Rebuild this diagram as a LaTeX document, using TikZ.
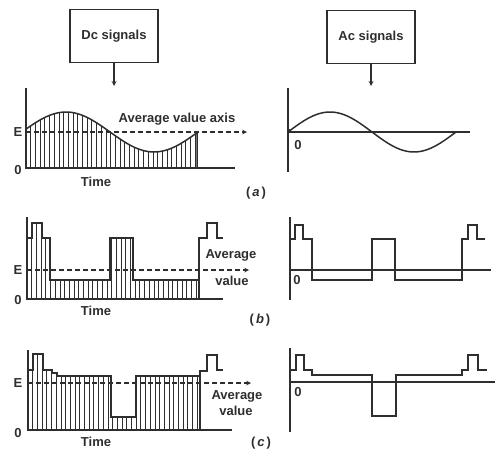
\documentclass[tikz,border=0pt]{standalone}
\usepackage{fontspec}
\setmainfont{Liberation Sans}
\usepackage{xcolor}
\definecolor{scanink}{HTML}{2E2E2E}

\begin{document}
\begin{tikzpicture}[x=1pt, y=-1pt, >=stealth,
    every node/.style={scanink, font=\fontsize{13}{15}\selectfont\bfseries},
    sigbox/.style={draw=scanink, line width=1.3pt, minimum width=88pt,
                   minimum height=53pt, inner sep=0pt},
    axisline/.style={scanink, line width=1.6pt},
    wave/.style={scanink, line width=1.5pt},
    hatch/.style={scanink, line width=0.8pt},
    avgline/.style={scanink, line width=1.1pt, dash pattern=on 5pt off 3pt, ->},
    feed/.style={scanink, line width=1.2pt, ->}]

  \useasboundingbox (0,0) rectangle (498,458);

  %% Kaestchen oben
  \node[sigbox] (dcbox) at (114,36) {Dc signals};
  \node[sigbox] (acbox) at (371,37) {Ac signals};
  \coordinate (dcfeed) at (114,86);
  \coordinate (acfeed) at (371,86);
  \draw[feed] (dcbox.south) -- (dcfeed);
  \draw[feed] (acbox.south) -- (acfeed);

  %% (a) Gleichsignal mit Sinusanteil
  \begin{scope}
    \clip (26,168) -- plot[domain=26:197, samples=60] (\x,{132-20*sin(2.04545*(\x-22))})
          -- (197,168) -- cycle;
    \foreach \x in {26,30.7,...,200}
      \draw[hatch] (\x,100) -- (\x,168);
  \end{scope}
  \draw[wave] plot[domain=26:197, samples=60] (\x,{132-20*sin(2.04545*(\x-22))})
              -- (197,168);
  \draw[axisline] (26,88) -- (26,168) -- (235,168);
  \coordinate (aavgL) at (26,132);
  \coordinate (aavgR) at (247,132);
  \draw[avgline] (aavgL) -- (aavgR);
  \node (aE) at (18,132) {E};
  \node (aO) at (18,170) {0};
  \node (aaxis) at (177,119) {Average value axis};
  \node (atime) at (96,182) {Time};
  \node (alabel) at (256,193) {(\kern2pt\textit{a}\kern2pt)};

  %% (a) Wechselsignal
  \draw[axisline] (288,88) -- (288,172);
  \draw[axisline] (288,132) -- (470,132);
  \draw[wave] plot[domain=288:456, samples=60] (\x,{132-20*sin(2.142857*(\x-288))});
  \fill[scanink] (289,131) circle (2pt);
  \node (acO) at (298,145) {0};

  %% (b) Gleichsignal, Pulsfolge
  \begin{scope}
    \clip (27,299) -- (27,238) -- (32,238) -- (32,223) -- (42,223) -- (42,238)
          -- (50,238) -- (50,280) -- (110,280) -- (110,238) -- (133,238)
          -- (133,280) -- (199,280) -- (199,299) -- cycle;
    \foreach \x in {27,31.7,...,200}
      \draw[hatch] (\x,215) -- (\x,299);
  \end{scope}
  \draw[wave] (27,238) -- (32,238) -- (32,223) -- (42,223) -- (42,238)
          -- (50,238) -- (50,280) -- (110,280) -- (110,238) -- (133,238)
          -- (133,280) -- (199,280) -- (199,238) -- (207,238) -- (207,223)
          -- (217,223) -- (217,238) -- (223,238);
  \draw[wave] (199,280) -- (199,299);
  \draw[axisline] (27,217) -- (27,299) -- (223,299);
  \coordinate (bavgL) at (27,270);
  \coordinate (bavgR) at (249,270);
  \draw[avgline] (bavgL) -- (bavgR);
  \node (bE) at (18,270) {E};
  \node (bO) at (18,300) {0};
  \node (bavg) at (231,255) {Average};
  \node (bval) at (232,281) {value};
  \node (btime) at (96,311) {Time};
  \node (blabel) at (260,320) {(\kern2pt\textit{b}\kern2pt)};

  %% (b) Wechselsignal
  \draw[axisline] (290,217) -- (290,300);
  \draw[axisline] (290,270) -- (491,270);
  \draw[wave] (290,239) -- (295,239) -- (295,225) -- (303,225) -- (303,239)
          -- (312,239) -- (312,280) -- (372,280) -- (372,239) -- (395,239)
          -- (395,280) -- (462,280) -- (462,239) -- (468,239) -- (468,225)
          -- (477,225) -- (477,239) -- (485,239);
  \node (bacO) at (297,280) {0};

  %% (c) Gleichsignal, Einbruch
  \begin{scope}
    \clip (28,430) -- (28,370) -- (33,370) -- (33,354) -- (43,354) -- (43,370)
          -- (52,370) -- (52,373) -- (57,373) -- (57,376) -- (111,376)
          -- (111,417) -- (136,417) -- (136,376) -- (200,376) -- (200,430) -- cycle;
    \foreach \x in {28,32.7,...,201}
      \draw[hatch] (\x,345) -- (\x,430);
  \end{scope}
  \draw[wave] (28,370) -- (33,370) -- (33,354) -- (43,354) -- (43,370)
          -- (52,370) -- (52,373) -- (57,373) -- (57,376) -- (111,376)
          -- (111,417) -- (136,417) -- (136,376) -- (200,376) -- (200,371)
          -- (207,371) -- (207,355) -- (217,355) -- (217,370) -- (223,370);
  \draw[wave] (200,376) -- (200,430);
  \draw[axisline] (28,350) -- (28,430) -- (232,430);
  \coordinate (cavgL) at (28,383);
  \coordinate (cavgR) at (251,383);
  \draw[avgline] (cavgL) -- (cavgR);
  \node (cE) at (18,383) {E};
  \node (cO) at (18,433) {0};
  \node (cavg) at (237,396) {Average};
  \node (cval) at (236,411) {value};
  \node (ctime) at (96,442) {Time};
  \node (clabel) at (261,443) {(\kern2pt\textit{c}\kern2pt)};

  %% (c) Wechselsignal
  \draw[axisline] (290,348) -- (290,432);
  \draw[axisline] (290,382) -- (495,382);
  \draw[wave] (290,370) -- (296,370) -- (296,355) -- (304,355) -- (304,370)
          -- (312,370) -- (312,375) -- (372,375) -- (372,416) -- (396,416)
          -- (396,375) -- (462,375) -- (462,370) -- (468,370) -- (468,355)
          -- (478,355) -- (478,370) -- (487,370);
  \node (cacO) at (298,392) {0};

\end{tikzpicture}
\end{document}
